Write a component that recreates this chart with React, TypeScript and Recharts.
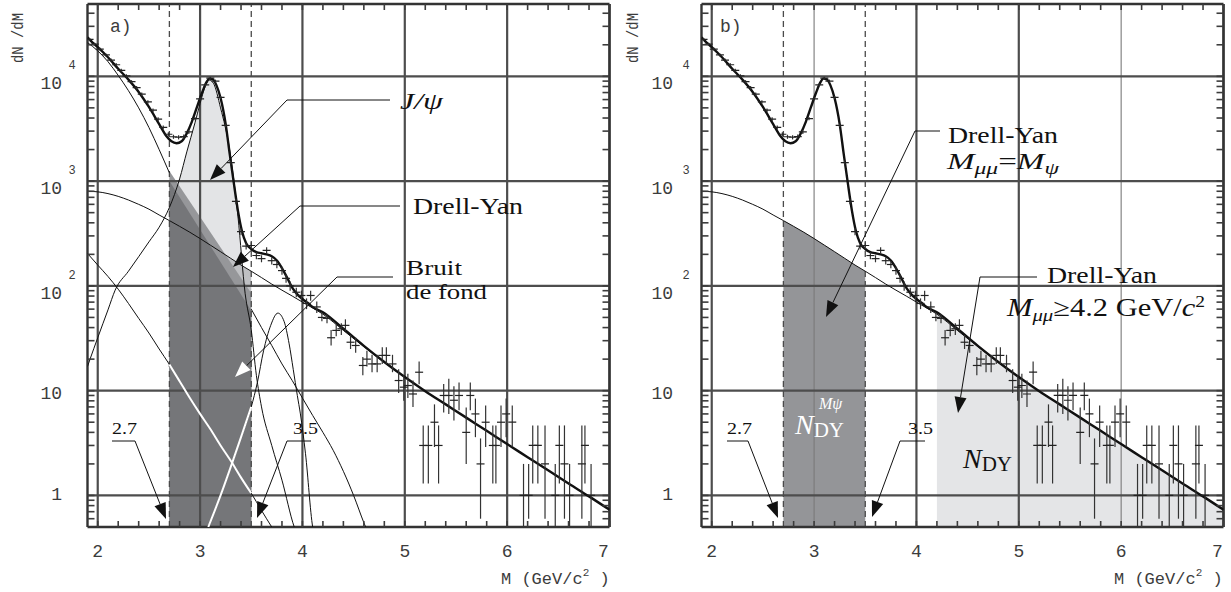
import React from "react";
import {
  ComposedChart,
  Line,
  Area,
  Scatter,
  ErrorBar,
  XAxis,
  YAxis,
  ReferenceLine,
} from "recharts";

type P = [number, number];

// ---------- axes ----------
const X_DOMAIN: [number, number] = [1.9, 7.0];
const Y_DOMAIN: [number, number] = [0.5, 49000];
const X_GRID = [2, 3, 4, 5, 6, 7];
const Y_GRID = [1, 10, 100, 1000, 10000];
const X_TICKS = [2.0, 2.2, 2.4, 2.6, 2.8, 3.0, 3.2, 3.4, 3.6, 3.8, 4.0, 4.2, 4.4, 4.6, 4.8, 5.0, 5.2, 5.4, 5.6, 5.8, 6.0, 6.2, 6.4, 6.6, 6.8, 7.0];
const Y_TICKS = [0.6, 0.7, 0.8, 0.9, 1, 2, 3, 4, 5, 6, 7, 8, 9, 10, 20, 30, 40, 50, 60, 70, 80, 90, 100, 200, 300, 400, 500, 600, 700, 800, 900, 1000, 2000, 3000, 4000, 5000, 6000, 7000, 8000, 9000, 10000, 20000, 30000, 40000];
const WINDOW_LO = 2.7;
const WINDOW_HI = 3.5;
const DY_CUT = 4.2;

// ---------- fitted curves ----------
const TOTAL: P[] = [
  [1.9, 23500], [1.95, 21000], [2.0, 19000], [2.1, 15200], [2.2, 11800], [2.3, 9300], [2.4, 7100],
  [2.5, 5100], [2.6, 3500], [2.67, 2700], [2.72, 2400], [2.77, 2300], [2.82, 2400], [2.87, 2860],
  [2.92, 3700], [2.97, 5100], [3.02, 7000], [3.06, 8700], [3.09, 9500], [3.12, 9400], [3.16, 8200],
  [3.2, 6200], [3.25, 3500], [3.29, 1800], [3.33, 950], [3.37, 520], [3.41, 330], [3.45, 255],
  [3.5, 225], [3.55, 210], [3.6, 205], [3.65, 200], [3.7, 192], [3.75, 175], [3.8, 148], [3.85, 120],
  [3.9, 96], [3.95, 83], [4.0, 75], [4.05, 69], [4.1, 63], [4.2, 56], [4.4, 39], [4.6, 26.8],
  [4.8, 18.8], [5.0, 13.5], [5.2, 9.9], [5.4, 7.4], [5.6, 5.53], [5.8, 4.14], [6.0, 3.09],
  [6.2, 2.32], [6.4, 1.74], [6.6, 1.3], [6.8, 0.98], [7.0, 0.73],
];
const DRELL_YAN: P[] = [
  [1.9, 800], [2.0, 790], [2.1, 760], [2.2, 715], [2.3, 660], [2.4, 600], [2.5, 540], [2.6, 475],
  [2.7, 420], [2.8, 370], [2.9, 325], [3.0, 283], [3.1, 245], [3.2, 212], [3.3, 183], [3.4, 158],
  [3.5, 138], [3.6, 120], [3.7, 104], [3.8, 91], [3.9, 80], [4.0, 70], [4.1, 61.5], [4.2, 53.7],
  [4.4, 37.6], [4.6, 26.3], [4.8, 18.6], [5.0, 13.4], [5.2, 9.9], [5.4, 7.4], [5.6, 5.53],
  [5.8, 4.14], [6.0, 3.09], [6.2, 2.32], [6.4, 1.74], [6.6, 1.3], [6.8, 0.98], [7.0, 0.73],
];
const JPSI: P[] = [
  [1.9, 17], [1.925, 20], [2.0, 32], [2.1, 59], [2.17, 91], [2.3, 138], [2.4, 190], [2.5, 263],
  [2.6, 363], [2.7, 560], [2.8, 1050], [2.87, 1900], [2.95, 3600], [3.0, 5500], [3.05, 8000],
  [3.09, 9200], [3.13, 8600], [3.2, 5000], [3.29, 1950], [3.37, 460], [3.44, 85], [3.5, 38],
  [3.55, 14], [3.6, 7], [3.7, 3], [3.8, 1.4], [3.92, 0.5], [3.95, 0.42],
];
const PSI_PRIME: P[] = [
  [3.08, 0.5], [3.2, 1.0], [3.31, 2.0], [3.4, 3.6], [3.5, 7], [3.56, 12], [3.62, 24], [3.69, 42],
  [3.76, 55], [3.82, 46], [3.87, 28], [3.91, 16], [3.95, 9], [3.98, 6], [4.03, 2.5], [4.1, 0.5],
  [4.12, 0.4],
];
const BKG_1: P[] = [
  [1.9, 21000], [2.0, 17500], [2.1, 13800], [2.2, 10200], [2.3, 7300], [2.4, 5000], [2.5, 3250],
  [2.6, 2000], [2.7, 1200], [3.5, 60], [3.6, 40], [3.7, 27], [3.8, 18], [3.9, 12.5], [4.0, 8.5],
  [4.1, 5.8], [4.2, 4.0], [4.3, 2.7], [4.4, 1.7], [4.5, 1.0], [4.6, 0.55], [4.65, 0.42],
];
const BKG_2: P[] = [
  [1.9, 204], [2.0, 158], [2.1, 123], [2.2, 93], [2.3, 68], [2.4, 49], [2.5, 35.5], [2.6, 25],
  [2.7, 17.8], [2.8, 12.3], [2.9, 8.5], [3.0, 6.0], [3.1, 4.3], [3.2, 3.0], [3.3, 2.14], [3.4, 1.48],
  [3.5, 1.05], [3.6, 0.72], [3.7, 0.5], [3.75, 0.42],
];
// shaded wedges of panel a inside the 2.7-3.5 window
const MEDIUM_EDGE: P[] = [[2.7, 1250], [3.5, 85]];
const DARK_EDGE: P[] = [[2.7, 1000], [3.5, 58]];

// ---------- measured points: x, y, lower, upper ----------
const POINTS: [number, number, number, number][] = [
  [1.92, 22500, 21800, 23200], [1.97, 20300, 19700, 20900], [2.02, 18200, 17600, 18800],
  [2.08, 16000, 15500, 16500], [2.13, 14300, 13800, 14800], [2.18, 12900, 12500, 13400],
  [2.23, 11400, 11000, 11800], [2.28, 10100, 9750, 10450], [2.33, 8900, 8600, 9200],
  [2.38, 7800, 7500, 8100], [2.43, 6750, 6500, 7000], [2.49, 5700, 5480, 5920],
  [2.54, 4750, 4560, 4940], [2.59, 3900, 3740, 4060], [2.64, 3250, 3110, 3390],
  [2.69, 2800, 2670, 2930], [2.74, 2650, 2530, 2770], [2.79, 2620, 2500, 2740],
  [2.84, 2660, 2540, 2780], [2.89, 2950, 2820, 3080], [2.95, 3950, 3800, 4100],
  [3.0, 6100, 5900, 6300], [3.05, 8300, 8050, 8550], [3.1, 9600, 9300, 9900],
  [3.15, 9000, 8700, 9300], [3.2, 6300, 6100, 6500], [3.25, 3400, 3270, 3530],
  [3.3, 1500, 1430, 1570], [3.35, 640, 600, 680], [3.4, 330, 305, 355], [3.45, 240, 222, 258],
  [3.5, 243, 225, 261], [3.55, 195, 180, 210], [3.6, 182, 168, 196], [3.65, 218, 202, 234],
  [3.7, 174, 160, 188], [3.75, 160, 147, 173], [3.8, 140, 128, 152], [3.84, 118, 107, 129],
  [3.88, 100, 90, 110], [3.94, 87, 78, 96], [3.99, 81, 72, 90], [4.04, 68, 60, 76],
  [4.08, 81, 72, 90], [4.14, 63, 55, 71], [4.19, 50, 46, 55], [4.24, 49, 44, 54],
  [4.28, 32, 27, 38], [4.33, 37.6, 33, 43], [4.38, 39, 34, 44], [4.42, 42, 37, 48],
  [4.47, 29, 25, 34], [4.52, 27, 23, 32], [4.59, 17.4, 14, 21], [4.63, 20, 17, 24],
  [4.68, 18, 15, 22], [4.73, 18, 15, 22], [4.78, 21.7, 18, 26], [4.82, 21.7, 18, 26],
  [4.88, 18, 15, 22], [4.94, 12.5, 9.5, 16], [4.99, 10.8, 8, 14], [5.03, 11.2, 8.5, 14.5],
  [5.08, 9.3, 7, 12.5], [5.14, 15, 11.5, 19], [5.18, 3, 1.3, 4.66], [5.23, 3, 1.3, 4.66],
  [5.29, 5, 2.9, 7.4], [5.33, 3, 1.3, 4.66], [5.38, 9, 6.2, 11.6], [5.43, 9, 6, 13],
  [5.48, 8.1, 5.2, 11], [5.53, 9, 6.5, 12], [5.6, 4, 2, 6.9], [5.64, 9, 6.5, 12],
  [5.69, 6, 3.6, 8.4], [5.74, 2, 0.6, 3.5], [5.79, 5, 2.9, 7.2], [5.86, 3, 1.3, 4.66],
  [5.89, 3, 1.3, 4.66], [5.94, 5, 2.9, 7.2], [5.99, 6, 3.6, 8.4], [6.05, 5, 2.9, 7.2],
  [6.16, 1, 0.5, 2], [6.21, 1, 0.6, 2], [6.25, 3, 1.3, 4.66], [6.3, 3, 1.3, 4.66],
  [6.37, 2, 0.6, 4.66], [6.47, 1, 0.5, 2], [6.51, 3, 1.3, 4.66], [6.56, 2, 0.6, 4.66],
  [6.61, 1, 0.5, 2], [6.73, 2, 0.6, 4.66], [6.76, 3, 1.3, 4.66], [6.82, 1, 0.5, 2],
];

// ---------- helpers ----------
const EPS = 1e-9;
const toXY = (pts: P[]) => pts.map(([x, y]) => ({ x, y }));
const toRange = (pts: P[]) => pts.map(([x, y]) => ({ x, r: [Y_DOMAIN[0], y] }));
const within = (pts: P[], lo: number, hi: number) => pts.filter(([x]) => x >= lo - EPS && x <= hi + EPS);
const pointData = POINTS.map(([x, y, lo, hi]) => ({ x, y, e: [y - lo, hi - y] }));

const MONO = "'Liberation Mono', 'DejaVu Sans Mono', monospace";
const SERIF = "'Liberation Serif', 'DejaVu Serif', serif";
const AXIS_GRAY = "#3c3c3c";
const GRID = "#4d4d4d";

const PLOT_TOP = 4;
const PLOT_BOTTOM = 527;

function makeXTick() {
  return (props: any) => {
    const { x, payload } = props;
    const v = payload.value as number;
    const isInt = Math.abs(v - Math.round(v)) < 1e-6;
    return (
      <g>
        <line x1={x} x2={x} y1={PLOT_BOTTOM} y2={PLOT_BOTTOM - 6} stroke={AXIS_GRAY} strokeWidth={1.6} />
        <line x1={x} x2={x} y1={PLOT_TOP} y2={PLOT_TOP + 6} stroke={AXIS_GRAY} strokeWidth={1.6} />
        {isInt && (
          <text x={x + (Math.round(v) === 7 ? -6 : 0)} y={557} textAnchor="middle" fontFamily={MONO} fontSize={18} fill={AXIS_GRAY}>
            {Math.round(v)}
          </text>
        )}
      </g>
    );
  };
}

function makeYTick(left: number, right: number, labelGap: number) {
  return (props: any) => {
    const { y, payload } = props;
    const v = payload.value as number;
    const lg = Math.log10(v);
    const k = Math.round(lg);
    const isDecade = Math.abs(lg - k) < 1e-6;
    const end = left - labelGap;
    let label: React.ReactNode = null;
    if (isDecade) {
      if (k === 0) {
        label = <text x={end} y={y + 5} textAnchor="end" fontFamily={MONO} fontSize={18} fill={AXIS_GRAY}>1</text>;
      } else if (k === 1) {
        label = <text x={end} y={y + 8} textAnchor="end" fontFamily={MONO} fontSize={18} fill={AXIS_GRAY}>10</text>;
      } else {
        label = (
          <g>
            <text x={end} y={y + 13} textAnchor="end" fontFamily={MONO} fontSize={18} fill={AXIS_GRAY}>10</text>
            <text x={left - 19} y={y - 7} fontFamily={MONO} fontSize={12} fill={AXIS_GRAY}>{k}</text>
          </g>
        );
      }
    }
    return (
      <g>
        <line x1={left} x2={left + 7} y1={y} y2={y} stroke={AXIS_GRAY} strokeWidth={1.6} />
        <line x1={right} x2={right - 7} y1={y} y2={y} stroke={AXIS_GRAY} strokeWidth={1.6} />
        {label}
      </g>
    );
  };
}

function Leader({ pts, head = "#111" }: { pts: P[]; head?: string }) {
  const n = pts.length;
  const [x1, y1] = pts[n - 2];
  const [x2, y2] = pts[n - 1];
  const ang = Math.atan2(y2 - y1, x2 - x1);
  const L = 16;
  const W = 6;
  const bx = x2 - L * Math.cos(ang);
  const by = y2 - L * Math.sin(ang);
  const px = -Math.sin(ang) * W;
  const py = Math.cos(ang) * W;
  const line = pts.slice(0, n - 1).map((p) => p.join(",")).join(" ") + ` ${bx},${by}`;
  return (
    <g>
      <polyline points={line} fill="none" stroke="#111" strokeWidth={1} />
      <polygon points={`${x2},${y2} ${bx + px},${by + py} ${bx - px},${by - py}`} fill={head} />
    </g>
  );
}

function Panel({ kind }: { kind: "a" | "b" }) {
  const isA = kind === "a";
  const width = isA ? 615 : 616;
  const yAxisW = isA ? 87.5 : 86.5;
  const rightM = isA ? 5.5 : 7.5;
  const plotRight = width - rightM;
  const thin = (v: number) => !isA && (v === 3 || v === 6);

  return (
    <ComposedChart width={width} height={592} margin={{ top: PLOT_TOP, right: rightM, bottom: 0, left: 0 }}>
      <XAxis
        type="number"
        dataKey="x"
        domain={X_DOMAIN}
        ticks={X_TICKS}
        interval={0}
        allowDataOverflow
        height={65}
        tick={makeXTick()}
        tickLine={false}
        axisLine={false}
      />
      <YAxis
        type="number"
        dataKey="y"
        scale="log"
        domain={Y_DOMAIN}
        ticks={Y_TICKS}
        interval={0}
        allowDataOverflow
        width={yAxisW}
        tick={makeYTick(yAxisW, plotRight, isA ? 25.5 : 28.5)}
        tickLine={false}
        axisLine={false}
      />

      {isA && (
        <Area data={toRange(within(JPSI, WINDOW_LO, WINDOW_HI))} dataKey="r" type="monotone" stroke="none" fill="#e3e4e6" fillOpacity={1} isAnimationActive={false} />
      )}
      {isA && (
        <Area data={toRange(within(DRELL_YAN, WINDOW_LO, WINDOW_HI))} dataKey="r" type="monotone" stroke="none" fill="#bfc0c3" fillOpacity={1} isAnimationActive={false} />
      )}
      {isA && (
        <Area data={toRange(MEDIUM_EDGE)} dataKey="r" type="linear" stroke="none" fill="#96979a" fillOpacity={1} isAnimationActive={false} />
      )}
      {isA && (
        <Area data={toRange(DARK_EDGE)} dataKey="r" type="linear" stroke="none" fill="#757679" fillOpacity={1} isAnimationActive={false} />
      )}
      {!isA && (
        <Area data={toRange(within(DRELL_YAN, WINDOW_LO, WINDOW_HI))} dataKey="r" type="monotone" stroke="none" fill="#949598" fillOpacity={1} isAnimationActive={false} />
      )}
      {!isA && (
        <Area data={toRange(within(DRELL_YAN, DY_CUT, X_DOMAIN[1]))} dataKey="r" type="monotone" stroke="none" fill="#e4e5e7" fillOpacity={1} isAnimationActive={false} />
      )}

      {X_GRID.map((v) => (
        <ReferenceLine key={`gx${v}`} x={v} stroke={thin(v) ? "#7a7a7a" : GRID} strokeWidth={thin(v) ? 1.1 : 2.2} />
      ))}
      {Y_GRID.map((v) => (
        <ReferenceLine key={`gy${v}`} y={v} stroke={GRID} strokeWidth={2.2} />
      ))}
      <ReferenceLine x={WINDOW_LO} stroke="#4a4a4a" strokeWidth={1.3} strokeDasharray="6 4" />
      <ReferenceLine x={WINDOW_HI} stroke="#4a4a4a" strokeWidth={1.3} strokeDasharray="6 4" />
      <ReferenceLine x={X_DOMAIN[0]} stroke="#333" strokeWidth={2.4} />
      <ReferenceLine x={X_DOMAIN[1]} stroke="#333" strokeWidth={2.4} />
      <ReferenceLine y={Y_DOMAIN[0]} stroke="#333" strokeWidth={2.4} />
      <ReferenceLine y={Y_DOMAIN[1]} stroke="#333" strokeWidth={2.4} />

      {isA && <Line data={toXY(JPSI)} dataKey="y" type="monotone" stroke="#111" strokeWidth={1} dot={false} isAnimationActive={false} />}
      {isA && <Line data={toXY(PSI_PRIME)} dataKey="y" type="monotone" stroke="#111" strokeWidth={1} dot={false} isAnimationActive={false} />}
      {isA && <Line data={toXY(within(BKG_1, 1.9, WINDOW_LO))} dataKey="y" type="monotone" stroke="#111" strokeWidth={1} dot={false} isAnimationActive={false} />}
      {isA && <Line data={toXY(within(BKG_1, WINDOW_HI, 5))} dataKey="y" type="monotone" stroke="#111" strokeWidth={1} dot={false} isAnimationActive={false} />}
      {isA && <Line data={toXY(BKG_2)} dataKey="y" type="monotone" stroke="#111" strokeWidth={1} dot={false} isAnimationActive={false} />}
      {isA && <Line data={toXY(within(BKG_2, WINDOW_LO, WINDOW_HI))} dataKey="y" type="monotone" stroke="#ffffff" strokeWidth={2} dot={false} isAnimationActive={false} />}
      {isA && <Line data={toXY(within(PSI_PRIME, 3.0, WINDOW_HI))} dataKey="y" type="monotone" stroke="#ffffff" strokeWidth={2} dot={false} isAnimationActive={false} />}
      <Line data={toXY(DRELL_YAN)} dataKey="y" type="monotone" stroke="#111" strokeWidth={1} dot={false} isAnimationActive={false} />
      <Line data={toXY(TOTAL)} dataKey="y" type="monotone" stroke="#111" strokeWidth={2.4} dot={false} isAnimationActive={false} />

      <Scatter
        data={pointData}
        dataKey="y"
        isAnimationActive={false}
        shape={(p: any) => <line x1={p.cx - 4} x2={p.cx + 4} y1={p.cy} y2={p.cy} stroke="#222" strokeWidth={1.2} />}
      >
        <ErrorBar dataKey="e" direction="y" width={0} stroke="#333" strokeWidth={1.2} isAnimationActive={false} />
      </Scatter>
    </ComposedChart>
  );
}

function Overlay() {
  const serif = { fontFamily: SERIF, fill: "#111" } as const;
  return (
    <svg width={1231} height={592} style={{ position: "absolute", left: 0, top: 0, pointerEvents: "none" }}>
      {/* axis titles */}
      <text transform="translate(23,38) rotate(-90)" textAnchor="middle" fontFamily={MONO} fontSize={17} fill={AXIS_GRAY} textLength={50} lengthAdjust="spacingAndGlyphs">dN /dM</text>
      <text transform="translate(638,38) rotate(-90)" textAnchor="middle" fontFamily={MONO} fontSize={17} fill={AXIS_GRAY} textLength={50} lengthAdjust="spacingAndGlyphs">dN /dM</text>
      <text x={501} y={584} fontFamily={MONO} fontSize={17} fill={AXIS_GRAY}>M (GeV/c<tspan fontSize={11} dy={-8}>2</tspan><tspan dy={8}> )</tspan></text>
      <text x={1114} y={584} fontFamily={MONO} fontSize={17} fill={AXIS_GRAY}>M (GeV/c<tspan fontSize={11} dy={-8}>2</tspan><tspan dy={8}> )</tspan></text>
      <text x={110} y={32} fontFamily={MONO} fontSize={18} fill={AXIS_GRAY}>a)</text>
      <text x={720} y={32} fontFamily={MONO} fontSize={18} fill={AXIS_GRAY}>b)</text>

      {/* panel a annotations */}
      <Leader pts={[[390, 100], [287, 100], [210, 180]]} />
      <text x={400} y={109} {...serif} fontSize={24} fontStyle="italic" textLength={43} lengthAdjust="spacingAndGlyphs">J/ψ</text>
      <Leader pts={[[400, 206], [300, 206], [233, 267]]} />
      <text x={413} y={214} {...serif} fontSize={23} textLength={110} lengthAdjust="spacingAndGlyphs">Drell-Yan</text>
      <Leader pts={[[393, 277], [337, 277], [235, 377]]} head="#ffffff" />
      <text x={406} y={275} {...serif} fontSize={21} textLength={56} lengthAdjust="spacingAndGlyphs">Bruit</text>
      <text x={406} y={299} {...serif} fontSize={21} textLength={81} lengthAdjust="spacingAndGlyphs">de fond</text>
      <Leader pts={[[112, 441], [135, 441], [166, 519]]} />
      <text x={112} y={434} {...serif} fontSize={17} textLength={25} lengthAdjust="spacingAndGlyphs">2.7</text>
      <Leader pts={[[311, 441], [287, 441], [257, 518]]} />
      <text x={293} y={434} {...serif} fontSize={17} textLength={25} lengthAdjust="spacingAndGlyphs">3.5</text>

      {/* panel b annotations */}
      <Leader pts={[[940, 131], [915, 131], [826, 317]]} />
      <text x={948} y={143} {...serif} fontSize={23} textLength={110} lengthAdjust="spacingAndGlyphs">Drell-Yan</text>
      <text x={947} y={169} {...serif} fontSize={24} textLength={112} lengthAdjust="spacingAndGlyphs">
        <tspan fontStyle="italic">M</tspan>
        <tspan fontStyle="italic" fontSize={17} dy={5}>μμ</tspan>
        <tspan dy={-5}>=</tspan>
        <tspan fontStyle="italic">M</tspan>
        <tspan fontStyle="italic" fontSize={17} dy={5}>ψ</tspan>
      </text>
      <Leader pts={[[1037, 277], [980, 277], [958, 413]]} />
      <text x={1047} y={283} {...serif} fontSize={23} textLength={110} lengthAdjust="spacingAndGlyphs">Drell-Yan</text>
      <text x={1007} y={316} {...serif} fontSize={25} textLength={198} lengthAdjust="spacingAndGlyphs">
        <tspan fontStyle="italic">M</tspan>
        <tspan fontStyle="italic" fontSize={17} dy={5}>μμ</tspan>
        <tspan dy={-5}>≥4.2 GeV/</tspan>
        <tspan fontStyle="italic">c</tspan>
        <tspan fontSize={16} dy={-9}>2</tspan>
      </text>
      <text x={795} y={434} fontFamily={SERIF} fill="#ffffff" fontSize={28}>
        <tspan fontStyle="italic">N</tspan>
        <tspan fontSize={21} dy={3}>DY</tspan>
      </text>
      <text x={819} y={409} fontFamily={SERIF} fill="#ffffff" fontSize={16} fontStyle="italic">Mψ</text>
      <text x={963} y={468} {...serif} fontSize={28}>
        <tspan fontStyle="italic">N</tspan>
        <tspan fontSize={21} dy={3}>DY</tspan>
      </text>
      <Leader pts={[[727, 441], [748, 441], [778, 518]]} />
      <text x={727} y={434} {...serif} fontSize={17} textLength={25} lengthAdjust="spacingAndGlyphs">2.7</text>
      <Leader pts={[[925, 441], [900, 441], [872, 517]]} />
      <text x={908} y={434} {...serif} fontSize={17} textLength={25} lengthAdjust="spacingAndGlyphs">3.5</text>
    </svg>
  );
}

export default function App() {
  return (
    <div style={{ position: "absolute", left: 0, top: 0, width: 1231, height: 592, background: "#ffffff", overflow: "hidden" }}>
      <div style={{ position: "absolute", left: 0, top: 0 }}>
        <Panel kind="a" />
      </div>
      <div style={{ position: "absolute", left: 615, top: 0 }}>
        <Panel kind="b" />
      </div>
      <Overlay />
    </div>
  );
}
